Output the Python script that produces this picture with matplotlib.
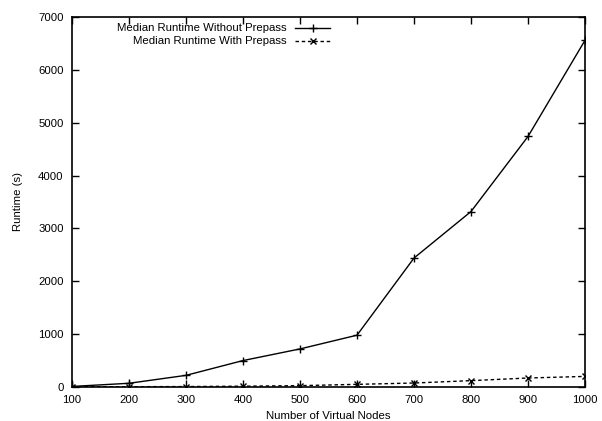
import matplotlib
matplotlib.use("Agg")
import matplotlib.pyplot as plt
from matplotlib.lines import Line2D

nodes = [100, 200, 300, 400, 500, 600, 700, 800, 900, 1000]
without_prepass = [10, 70, 220, 500, 720, 980, 2440, 3320, 4740, 6560]
with_prepass = [5, 5, 8, 15, 25, 50, 75, 120, 170, 200]
label_without = "Median Runtime Without Prepass"
label_with = "Median Runtime With Prepass"
xticks = [100, 200, 300, 400, 500, 600, 700, 800, 900, 1000]
yticks = [0, 1000, 2000, 3000, 4000, 5000, 6000, 7000]

plt.rcParams['font.family'] = ['Liberation Sans', 'DejaVu Sans']
plt.rcParams['font.size'] = 8.2

fig = plt.figure(figsize=(6.02, 4.21), dpi=100)
ax = fig.add_axes([0.1196, 0.0808, 0.8522, 0.8788])

ax.plot(nodes, without_prepass, color='black', lw=1.0, marker='+', ms=6, mew=1.0)
ax.plot(nodes, with_prepass, color='black', lw=1.0, ls=(0, (2.5, 2)), marker='x', ms=4.5, mew=1.0)

ax.set_xlim(100, 1000)
ax.set_ylim(0, 7000)
ax.set_xticks(xticks)
ax.set_yticks(yticks)
ax.tick_params(direction='in', top=True, right=True, length=5, width=1.0, pad=6, labelsize=8.2)
for s in ax.spines.values():
    s.set_linewidth(1.2)

ax.set_xlabel("Number of Virtual Nodes", fontsize=8.2, labelpad=4)
ax.set_ylabel("Runtime (s)", fontsize=8.2, labelpad=11)

# legend (gnuplot style: right-aligned text, sample to the right)
tr = ax.transAxes
ax.text(0.419, 0.970, label_without, transform=tr, ha='right', va='center', fontsize=8.2)
ax.text(0.419, 0.935, label_with, transform=tr, ha='right', va='center', fontsize=8.2)
ax.add_line(Line2D([0.435, 0.503], [0.970, 0.970], transform=tr, color='black', lw=1.0))
ax.add_line(Line2D([0.469], [0.970], transform=tr, color='black', marker='+', ms=6, mew=1.0))
ax.add_line(Line2D([0.435, 0.503], [0.935, 0.935], transform=tr, color='black', lw=1.0, ls=(0, (2.5, 2))))
ax.add_line(Line2D([0.469], [0.935], transform=tr, color='black', marker='x', ms=4.5, mew=1.0))

fig.savefig("out.png", dpi=100)
